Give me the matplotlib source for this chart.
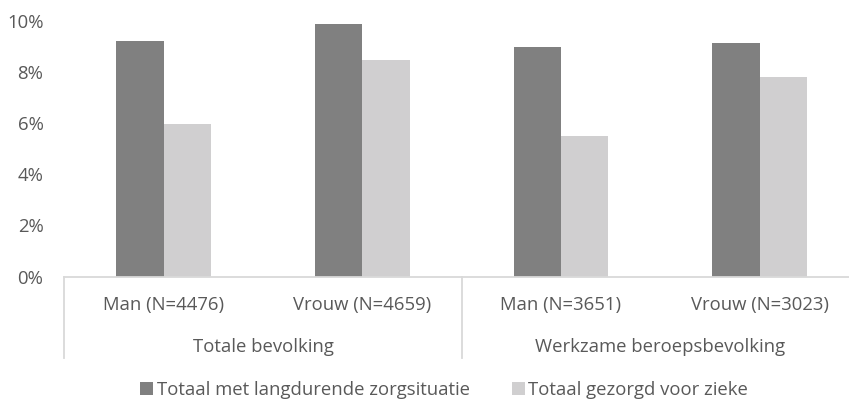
import matplotlib
matplotlib.use("Agg")
import matplotlib.pyplot as plt
from matplotlib.ticker import FuncFormatter
from matplotlib.lines import Line2D
from matplotlib.patches import Rectangle
from matplotlib.transforms import blended_transform_factory

plt.rcParams['font.family'] = ['Open Sans', 'DejaVu Sans']

categories = ["Man (N=4476)", "Vrouw (N=4659)", "Man (N=3651)", "Vrouw (N=3023)"]
groups = ["Totale bevolking", "Werkzame beroepsbevolking"]
series_names = ["Totaal met langdurende zorgsituatie", "Totaal gezorgd voor zieke"]
langdurend = [9.2, 9.87, 8.97, 9.12]
gezorgd = [5.95, 8.48, 5.5, 7.82]
yticks = [0, 2, 4, 6, 8, 10]

dark = "#808080"
light = "#D0CFD0"
txt = "#595959"
axcol = "#D9D9D9"
FS = 13.3

W, H = 849, 400
fig = plt.figure(figsize=(W / 100, H / 100), dpi=100)
left, right = 64.3 / W, 859 / W
bottom = (H - 276.5) / H
top = (H - 21) / H
ax = fig.add_axes([left, bottom, right - left, top - bottom])

x = list(range(len(categories)))
bw = 0.238
ax.bar([i - bw / 2 for i in x], langdurend, width=bw, color=dark, label=series_names[0])
ax.bar([i + bw / 2 for i in x], gezorgd, width=bw, color=light, label=series_names[1])

ax.set_xlim(-0.5, len(categories) - 0.5)
ax.set_ylim(0, 10)
ax.set_yticks(yticks)
ax.yaxis.set_major_formatter(FuncFormatter(lambda v, p: f"{int(v)}%"))
ax.tick_params(axis='y', length=0, labelsize=FS, labelcolor=txt, pad=15)
ax.set_xticks([])
for s in ["top", "right", "left"]:
    ax.spines[s].set_visible(False)
ax.spines["bottom"].set_color(axcol)
ax.spines["bottom"].set_linewidth(1.3)

def ypix(py):
    return (H - py) / H

def xpix(px):
    return px / W

trans = blended_transform_factory(ax.transData, fig.transFigure)
for i, c in enumerate(categories):
    fig.text(i, ypix(310), c, transform=trans, ha='center', va='baseline', fontsize=FS, color=txt)
for g, name in enumerate(groups):
    fig.text(g * 2 + 0.5, ypix(351.5), name, transform=trans, ha='center', va='baseline', fontsize=FS, color=txt)

for xv in [-0.5, 1.5]:
    fig.add_artist(Line2D([xv, xv], [ypix(276.5), ypix(358)], transform=trans, color=axcol, linewidth=1.3))

# legend
leg_base = 395
leg_items = [(140, 157, dark, series_names[0]), (512, 528, light, series_names[1])]
for sx, tx, col, name in leg_items:
    fig.add_artist(Rectangle((xpix(sx), ypix(leg_base)), 13 / W, 13 / H, transform=fig.transFigure,
                             facecolor=col, edgecolor='none'))
    fig.text(xpix(tx), ypix(leg_base), name, ha='left', va='baseline', fontsize=FS, color=txt)

fig.savefig("out.png", dpi=100)
